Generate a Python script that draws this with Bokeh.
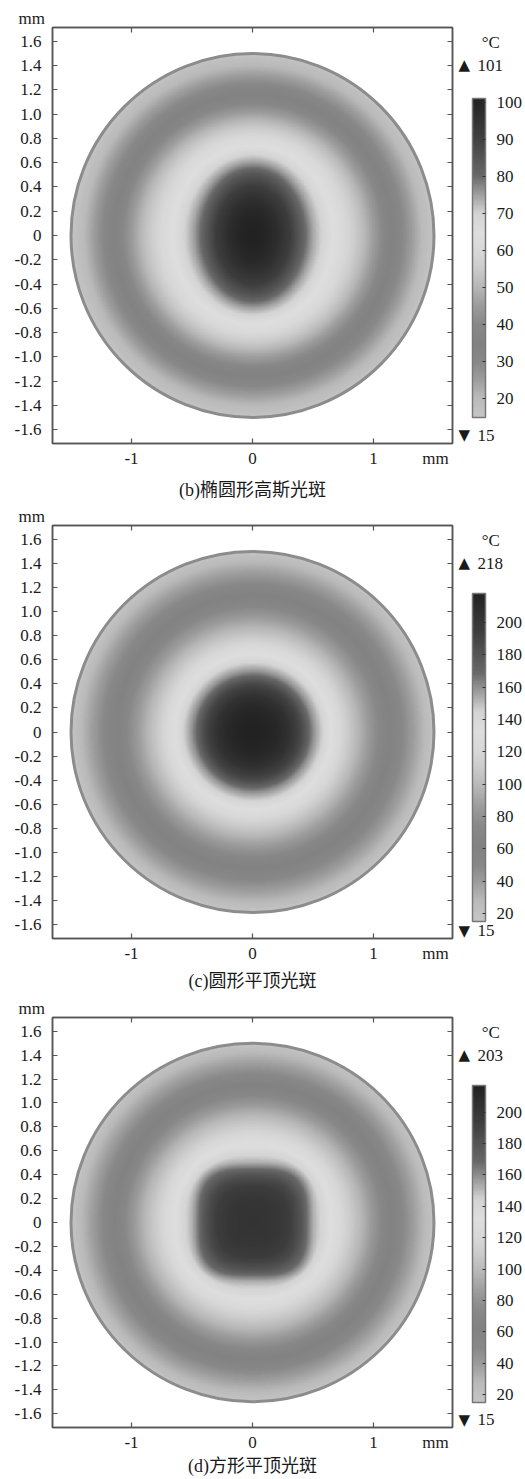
import numpy as np
from bokeh.plotting import figure
from bokeh.layouts import column
from bokeh.models import (LinearColorMapper, ColorBar, FixedTicker, LinearAxis,
                          Range1d, Title)
from bokeh.embed import file_html
from bokeh.resources import INLINE

# ---------------- data ----------------
R_MM = [0.0, 0.1, 0.2, 0.3, 0.4, 0.5, 0.6, 0.7, 0.8, 0.9, 1.0, 1.1, 1.2, 1.3, 1.4, 1.5]
# (b) elliptical gaussian spot: temperature profile along x and along y (degC)
B_T_ALONG_X = [101, 100, 97, 92, 83, 74, 68, 63, 58, 52, 45, 38, 32, 26, 20, 16]
B_T_ALONG_Y = [101, 100.5, 99, 96, 91.5, 85, 75, 67, 61, 54, 46, 38.5, 32.5, 26.5, 20.5, 16.5]
# (c) circular flat-top spot: radial profile
C_T_RADIAL = [218, 217, 213, 205, 188, 160, 140, 124, 108, 93, 79, 66, 54, 42, 30, 18]
# (d) square flat-top spot: profile along the axes and along the diagonals
D_T_ALONG_AXIS = [203, 202.5, 200.5, 195, 180, 152, 138, 125, 111, 97, 82, 68, 55, 42, 30, 18]
D_T_ALONG_DIAG = [203, 202.8, 201.5, 196.5, 187, 169, 143, 127, 111.5, 97.5, 82.5, 68.5, 55.5, 42.5, 30.5, 18.5]

T_MIN = [15, 15, 15]
T_MAX = [101, 218, 203]
BAR_HIGH = [101, 218, 217]
BAR_TICKS = [
    [20, 30, 40, 50, 60, 70, 80, 90, 100],
    [20, 40, 60, 80, 100, 120, 140, 160, 180, 200],
    [20, 40, 60, 80, 100, 120, 140, 160, 180, 200],
]
CAPTIONS = ["(b)椭圆形高斯光斑", "(c)圆形平顶光斑", "(d)方形平顶光斑"]
UNIT_LEN = "mm"
UNIT_T = "°C"

Y_TICKS = [-1.6, -1.4, -1.2, -1.0, -0.8, -0.6, -0.4, -0.2, 0.0,
           0.2, 0.4, 0.6, 0.8, 1.0, 1.2, 1.4, 1.6]
Y_TICK_LABELS = ["-1.6", "-1.4", "-1.2", "-1.0", "-0.8", "-0.6", "-0.4", "-0.2", "0",
                 "0.2", "0.4", "0.6", "0.8", "1.0", "1.2", "1.4", "1.6"]
X_TICKS = [-1, 0, 1]
X_TICK_LABELS = ["-1", "0", "1"]

# grayscale colormap (position in range -> gray level)
CMAP_POS = [0.0, 0.06, 0.12, 0.17, 0.23, 0.29, 0.35, 0.41, 0.47, 0.52, 0.58, 0.64, 0.70, 0.76, 0.88, 1.0]
CMAP_GRAY = [198, 186, 156, 136, 130, 136, 156, 183, 204, 216, 222, 212, 158, 104, 64, 34]

# ---------------- styling / layout ----------------
SERIF = "Liberation Serif, serif"
CJK = "Liberation Serif, Noto Sans CJK SC, serif"
FRAME_COL = "#555555"
TXT = "#1a1a1a"
X0, X1 = -1.653, 1.653
Y0, Y1 = -1.715, 1.715
FRAME_L, FRAME_W = 52, 400
NB = "\u00a0"

# per panel: (fig top on page, fig height, frame top, frame bottom, bar top, bar bottom,
#             caption standoff)
PANELS = [
    (0, 504, 27, 443, 98, 417, 9),
    (504, 491, 524, 938, 593, 921, 5),
    (995, 484, 1017, 1427, 1085, 1402, 1),
]

pos = np.linspace(0, 1, 256)
gray = np.interp(pos, CMAP_POS, CMAP_GRAY)
PALETTE = ["#%02x%02x%02x" % (int(round(g)), int(round(g)), int(round(g))) for g in gray]

# ---------------- fields (contours shaped from the read profiles) ----------------
n = 481
xs = np.linspace(-1.5, 1.5, n)
X, Y = np.meshgrid(xs, xs)
R = np.hypot(X, Y)
AX, AY = np.abs(X), np.abs(Y)
outside = R > 1.5


def inv(profile):
    tp = np.array(profile[::-1], float)
    rp = np.array(R_MM[::-1], float)
    return lambda T: np.maximum(np.interp(T, tp, rp), 1e-6)


def solve(norm_fn, tmin, tmax):
    lo = np.full(R.shape, float(tmin))
    hi = np.full(R.shape, float(tmax))
    for _ in range(34):
        mid = 0.5 * (lo + hi)
        out = norm_fn(mid) > 1.0
        hi = np.where(out, mid, hi)
        lo = np.where(out, lo, mid)
    return 0.5 * (lo + hi)


rbx, rby = inv(B_T_ALONG_X), inv(B_T_ALONG_Y)
Tb = solve(lambda T: np.hypot(X / rbx(T), Y / rby(T)), B_T_ALONG_X[-1], B_T_ALONG_X[0])

rc = inv(C_T_RADIAL)
Tc = solve(lambda T: R / rc(T), C_T_RADIAL[-1], C_T_RADIAL[0])

rda, rdd = inv(D_T_ALONG_AXIS), inv(D_T_ALONG_DIAG)


def sq_norm(T):
    ra = rda(T)
    q = np.clip(rdd(T) / ra, 1.0, 1.40)
    p = np.minimum(np.log(2.0) / np.log(np.sqrt(2.0) / q), 40.0)
    m = np.maximum(AX, AY)
    s = np.minimum(AX, AY) / np.maximum(m, 1e-9)
    return (m / ra) * (1.0 + s ** p) ** (1.0 / p)


Td = solve(sq_norm, D_T_ALONG_AXIS[-1], D_T_ALONG_AXIS[0])

FIELDS = []
for T in (Tb, Tc, Td):
    T = T.copy()
    T[outside] = np.nan
    FIELDS.append(T)


def style_axis(ax, labels=True):
    ax.axis_line_color = FRAME_COL
    ax.axis_line_width = 1.5
    ax.major_tick_line_color = FRAME_COL
    ax.major_tick_line_width = 1.2
    ax.major_tick_in = 5
    ax.major_tick_out = 0
    ax.minor_tick_in = 0
    ax.minor_tick_out = 0
    ax.major_label_text_font = SERIF
    ax.major_label_text_font_size = "17px"
    ax.major_label_text_color = TXT
    if not labels:
        ax.major_label_text_font_size = "0px"
        ax.major_label_text_color = None
        ax.major_label_standoff = 0


def label_axis(ax, font=SERIF, size="17px"):
    ax.axis_line_color = None
    ax.major_tick_line_color = None
    ax.minor_tick_line_color = None
    ax.major_tick_in = 0
    ax.major_tick_out = 0
    ax.minor_tick_in = 0
    ax.minor_tick_out = 0
    ax.major_label_text_font = font
    ax.major_label_text_font_size = size
    ax.major_label_text_color = TXT


figs = []
for i in range(3):
    ftop, fh, frt, frb, bt, bb, cap_off = PANELS[i]
    top_b = frt - ftop
    frame_h = frb - frt
    bot_b = fh - top_b - frame_h

    def py2y(py, frt=frt, frame_h=frame_h):
        return round(Y1 - (py - frt) * (Y1 - Y0) / frame_h, 4)

    def px2x(px):
        return round(X0 + (px - FRAME_L) * (X1 - X0) / FRAME_W, 4)

    p = figure(width=525, height=fh, x_range=Range1d(X0, X1), y_range=Range1d(Y0, Y1),
               output_backend="svg", toolbar_location=None,
               x_axis_location=None, y_axis_location=None,
               min_border_left=FRAME_L, min_border_right=525 - FRAME_L - FRAME_W,
               min_border_top=top_b, min_border_bottom=bot_b)
    p.grid.visible = False
    p.outline_line_color = FRAME_COL
    p.outline_line_width = 1.5
    p.background_fill_color = "white"
    p.border_fill_color = "white"

    mapper = LinearColorMapper(palette=PALETTE, low=T_MIN[i], high=BAR_HIGH[i],
                               nan_color=(255, 255, 255, 0))
    p.image(image=[FIELDS[i]], x=-1.5, y=-1.5, dw=3.0, dh=3.0, color_mapper=mapper)
    p.ellipse(x=[0], y=[0], width=3.0, height=3.0, fill_color=None,
              line_color="#8c8c8c", line_width=3)

    # left axis with labels
    yl = LinearAxis(ticker=FixedTicker(ticks=Y_TICKS),
                    major_label_overrides=dict(zip(Y_TICKS, Y_TICK_LABELS)))
    style_axis(yl)
    yl.major_label_standoff = 11
    p.add_layout(yl, "left")

    # right: mirrored ticks, then triangle markers, then unit / max / min values
    yr = LinearAxis(ticker=FixedTicker(ticks=Y_TICKS))
    style_axis(yr, labels=False)
    p.add_layout(yr, "right")
    y_unit, y_max, y_min = py2y(frt + 15), py2y(frt + 38), py2y(frb - 8)
    yr_tri = LinearAxis(ticker=FixedTicker(ticks=[y_max, y_min]),
                        major_label_overrides={y_max: "▲", y_min: "▼"})
    label_axis(yr_tri, font="DejaVu Sans", size="15px")
    yr_tri.major_label_standoff = 6
    p.add_layout(yr_tri, "right")
    yr_val = LinearAxis(ticker=FixedTicker(ticks=[y_unit, y_max, y_min]),
                        major_label_overrides={y_unit: NB + UNIT_T,
                                               y_max: str(T_MAX[i]),
                                               y_min: str(T_MIN[i])})
    label_axis(yr_val)
    yr_val.major_label_standoff = 4
    p.add_layout(yr_val, "right")

    # bottom: tick axis, then labels (with the unit) and caption
    xb = LinearAxis(ticker=FixedTicker(ticks=X_TICKS))
    style_axis(xb, labels=False)
    p.add_layout(xb, "below")
    x_unit = px2x(435)
    xb2 = LinearAxis(ticker=FixedTicker(ticks=X_TICKS + [x_unit]),
                     major_label_overrides=dict(zip(X_TICKS + [x_unit],
                                                    X_TICK_LABELS + [UNIT_LEN])))
    label_axis(xb2)
    xb2.major_label_standoff = 5
    xb2.axis_label = CAPTIONS[i]
    xb2.axis_label_text_font = CJK
    xb2.axis_label_text_font_size = "18px"
    xb2.axis_label_text_font_style = "normal"
    xb2.axis_label_text_color = TXT
    xb2.axis_label_standoff = cap_off
    p.add_layout(xb2, "below")

    xa = LinearAxis(ticker=FixedTicker(ticks=X_TICKS))
    style_axis(xa, labels=False)
    p.add_layout(xa, "above")

    cb = ColorBar(color_mapper=mapper, ticker=FixedTicker(ticks=BAR_TICKS[i]),
                  width=13, height=bb - bt, location=(472 - FRAME_L, frb - bb),
                  padding=0, margin=0, label_standoff=11,
                  major_label_text_font=SERIF, major_label_text_font_size="17px",
                  major_label_text_color=TXT,
                  major_tick_in=3, major_tick_out=0, major_tick_line_color="#333333",
                  minor_tick_line_color=None,
                  bar_line_color="#777777", bar_line_width=1.5,
                  border_line_color=None, background_fill_alpha=0)
    p.add_layout(cb, "center")

    p.add_layout(Title(text=UNIT_LEN, align="left", offset=-34, text_font=SERIF,
                       text_font_size="17px", text_font_style="normal",
                       text_line_height=0.8, text_color=TXT, standoff=0), "above")
    figs.append(p)

layout = column(*figs, spacing=0)
open("out.html", "w").write(file_html(layout, INLINE))
